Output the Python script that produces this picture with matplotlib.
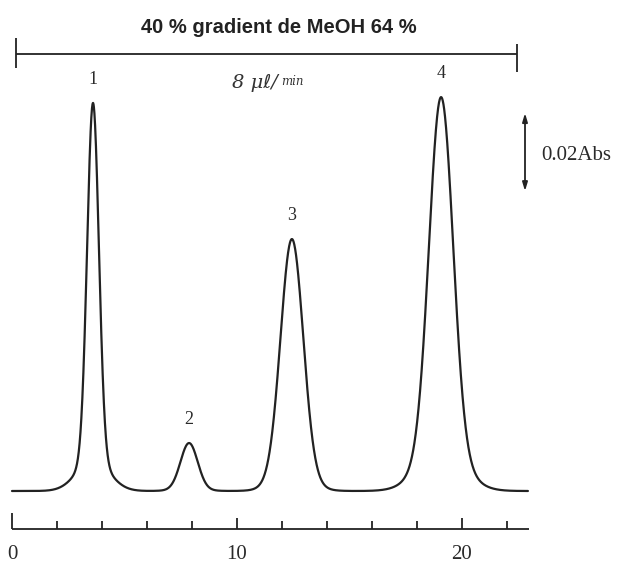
import numpy as np
import matplotlib.pyplot as plt

# peak table (time in min, height in Abs)
peak_names = ["1", "2", "3", "4"]
peak_times = [3.6, 7.87, 12.44, 19.07]
peak_heights = [0.0995, 0.0123, 0.0646, 0.101]
peak_sigma = [0.26, 0.38, 0.50, 0.53]
tail_frac = [0.08, 0.03, 0.05, 0.10]
tail_sigma = [0.71, 0.70, 0.80, 0.98]

t_start, t_end = 0.0, 22.93
axis_ticks = np.arange(0, 23, 2)
axis_labels = {0: "0", 10: "10", 20: "20"}

grad_text = "40 % gradient de MeOH 64 %"
flow_text = "8 μℓ/"
flow_unit = "min"
scale_text = "0.02Abs"
scale_abs = 0.02

ink = "#222222"
serif = ["DejaVu Serif", "DejaVu Sans"]

t = np.linspace(t_start, t_end, 3000)
signal = np.zeros_like(t)
for tr, h, s, f, s2 in zip(peak_times, peak_heights, peak_sigma, tail_frac, tail_sigma):
    signal += h * ((1 - f) * np.exp(-(t - tr) ** 2 / (2 * s ** 2))
                   + f * np.exp(-(t - tr) ** 2 / (2 * s2 ** 2)))

fig = plt.figure(figsize=(6.19, 5.64), dpi=100)
ax = fig.add_axes([0, 0, 1, 1])
# x: 22.5 px per min, origin at px 12 ; y: 3900 px per Abs, baseline at px 491
ax.set_xlim(-12 / 22.5, (619 - 12) / 22.5)
ax.set_ylim((491 - 564) / 3900, 491 / 3900)
ax.axis("off")

ax.plot(t, signal, color=ink, lw=1.6, solid_capstyle="round")

# peak numbers
for name, tr, h in zip(peak_names, peak_times, peak_heights):
    ax.annotate(name, (tr, h), xytext=(0, 17), textcoords="offset points",
                ha="center", va="center", fontsize=13, color="#2a2a2a",
                family="Liberation Serif")

# time axis
y_axis = -0.00974
ax.hlines(y_axis, t_start, 22.98, color=ink, lw=1.3)
for tk in axis_ticks:
    ln = 0.0040 if tk == 0 else (0.0028 if tk in (10, 20) else 0.0021)
    ax.vlines(tk, y_axis, y_axis + ln, color=ink, lw=1.3)
for tk, lab in axis_labels.items():
    ax.text(tk, -0.0162, lab, ha="center", va="center", fontsize=15,
            color="#2a2a2a", family="Liberation Serif")

# gradient bar
y_bar = 0.11205
ax.hlines(y_bar, 0.18, 22.44, color=ink, lw=1.3)
ax.vlines(0.18, y_bar - 0.0037, y_bar + 0.0040, color=ink, lw=1.3)
ax.vlines(22.44, y_bar - 0.0046, y_bar + 0.0026, color=ink, lw=1.3)
ax.text(11.85, 0.1188, grad_text, ha="center", va="center", fontsize=14.5,
        fontweight="bold", family="Liberation Sans", color="#222222")
ax.text(11.82, 0.1046, flow_text, ha="right", va="center", fontsize=14,
        style="italic", family=serif, color="#333333")
ax.text(11.96, 0.1050, flow_unit, ha="left", va="center", fontsize=8.5,
        style="italic", family=serif, color="#333333")

# absorbance scale arrow
x_arr = 22.8
top = 0.0969
ax.annotate("", xy=(x_arr, top), xytext=(x_arr, top - scale_abs),
            arrowprops=dict(arrowstyle="<|-|>,head_length=0.5,head_width=0.15",
                            color=ink, lw=1.3, shrinkA=0, shrinkB=0))
ax.text(23.5, top - scale_abs / 2 - 0.0010, scale_text, ha="left", va="center",
        fontsize=15, family="Liberation Serif", color="#2a2a2a")

fig.savefig("out.png", dpi=100)
